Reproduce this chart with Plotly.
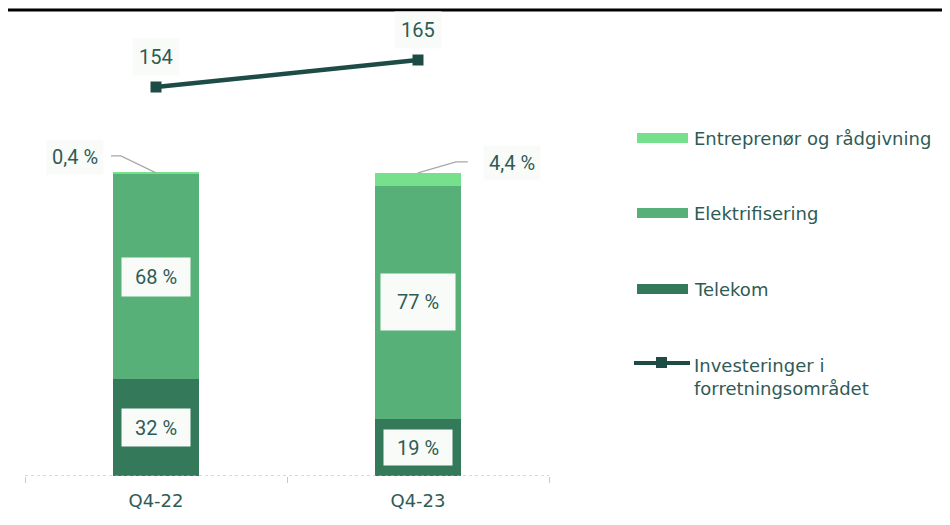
import plotly.graph_objects as go

categories = ["Q4-22", "Q4-23"]
telekom = [32, 19]
elektrifisering = [68, 77]
entreprenor = [0.4, 4.4]
investeringer = [154, 165]
series_names = ["Entreprenør og rådgivning", "Elektrifisering", "Telekom",
                "Investeringer i<br>forretningsområdet"]
small_labels = ["0,4 %", "4,4 %"]

C_ENT = "#76e08d"
C_ELE = "#56b077"
C_TEL = "#33795a"
C_LINE = "#1c4c45"
C_TXT = "#2f5b56"
LBL_BG = "#f9fbf9"

W, H = 950, 525
OFF = 8  # page body margin
ML, MR, MT, MB = 17, 409, 12, 57
PW, PH = W - ML - MR, H - MT - MB


def sx(px):
    """screen x pixel -> paper x"""
    return (px - OFF - ML) / PW


def sy(py):
    """screen y pixel -> paper y"""
    return (H - MB - (py - OFF)) / PH


fig = go.Figure()
fig.add_trace(go.Bar(x=categories, y=telekom, name=series_names[2], marker_color=C_TEL,
                     marker_line_width=0, width=0.33, showlegend=False, hoverinfo="skip"))
fig.add_trace(go.Bar(x=categories, y=elektrifisering, name=series_names[1], marker_color=C_ELE,
                     marker_line_width=0, width=0.33, showlegend=False, hoverinfo="skip"))
fig.add_trace(go.Bar(x=categories, y=entreprenor, name=series_names[0], marker_color=C_ENT,
                     marker_line_width=0, width=0.33, showlegend=False, hoverinfo="skip"))
fig.add_trace(go.Scatter(x=categories, y=investeringer, yaxis="y2", mode="lines+markers",
                         line=dict(color=C_LINE, width=4.5),
                         marker=dict(symbol="square", size=11, color=C_LINE),
                         showlegend=False, hoverinfo="skip"))

annotations = []
# box sizes (w, h) for the in-bar labels: [telekom, elektrifisering] per category
box_sizes = [[(52, 21), (52, 22)], [(52, 19), (58, 40)]]
for i, cat in enumerate(categories):
    t = telekom[i]
    e = elektrifisering[i]
    for k, (val, mid) in enumerate(((t, t / 2), (e, t + e / 2))):
        bw, bh = box_sizes[i][k]
        annotations.append(dict(x=cat, y=mid, xref="x", yref="y", text=f"{val:g} %",
                                showarrow=False, bgcolor=LBL_BG, borderpad=8,
                                width=bw, height=bh,
                                font=dict(family="Roboto", size=20, color=C_TXT)))
    annotations.append(dict(x=cat, y=investeringer[i], xref="x", yref="y2", text=f"{investeringer[i]}",
                            showarrow=False, bgcolor=LBL_BG, borderpad=6, yshift=30,
                            font=dict(family="Roboto", size=20, color=C_TXT)))

# small segment labels with leader lines
top0 = telekom[0] + elektrifisering[0] + entreprenor[0]
top1 = telekom[1] + elektrifisering[1] + entreprenor[1]
annotations.append(dict(x=-0.31, y=top0 + 5.3, xref="x", yref="y", text=small_labels[0],
                        showarrow=False, bgcolor=LBL_BG, borderpad=5,
                        font=dict(family="Roboto", size=20, color=C_TXT)))
annotations.append(dict(x=1.36, y=top1 + 3.3, xref="x", yref="y", text=small_labels[1],
                        showarrow=False, bgcolor=LBL_BG, borderpad=5,
                        font=dict(family="Roboto", size=20, color=C_TXT)))

shapes = [
    dict(type="path", xref="x", yref="y",
         path=f"M -0.172,{top0 + 5.6} L -0.134,{top0 + 5.6} L 0,{top0}",
         line=dict(color="#a8a8a8", width=1.3)),
    dict(type="path", xref="x", yref="y",
         path=f"M 1,{top1} L 1.145,{top1 + 3.6} L 1.19,{top1 + 3.6}",
         line=dict(color="#a8a8a8", width=1.3)),
    # dotted baseline
    dict(type="line", xref="paper", yref="y", x0=0, x1=1, y0=0, y1=0,
         line=dict(color="#b5b5b5", width=1, dash="dot")),
    # top black rule
    dict(type="line", xref="paper", yref="paper", x0=sx(5), x1=sx(960),
         y0=sy(10), y1=sy(10), line=dict(color="#000000", width=3)),
]

# manual legend
legend_rows = [(138, C_ENT, series_names[0]), (213, C_ELE, series_names[1]),
               (289, C_TEL, series_names[2])]
for yc, col, name in legend_rows:
    shapes.append(dict(type="rect", xref="paper", yref="paper",
                       x0=sx(637), x1=sx(688), y0=sy(yc + 5), y1=sy(yc - 5),
                       fillcolor=col, line=dict(width=0)))
    annotations.append(dict(x=sx(692), y=sy(yc), xref="paper", yref="paper",
                            text=name, showarrow=False, xanchor="left", yanchor="middle",
                            font=dict(family="DejaVu Sans", size=18, color=C_TXT)))
shapes.append(dict(type="line", xref="paper", yref="paper",
                   x0=sx(634), x1=sx(690), y0=sy(363), y1=sy(363),
                   line=dict(color=C_LINE, width=4)))
shapes.append(dict(type="rect", xref="paper", yref="paper",
                   x0=sx(656), x1=sx(667), y0=sy(368), y1=sy(357),
                   fillcolor=C_LINE, line=dict(width=0)))
annotations.append(dict(x=sx(692), y=sy(377), xref="paper", yref="paper",
                        text=series_names[3], showarrow=False, xanchor="left", yanchor="middle",
                        align="left",
                        font=dict(family="DejaVu Sans", size=18, color=C_TXT)))

fig.update_layout(
    width=W, height=H,
    margin=dict(l=ML, r=MR, t=MT, b=MB),
    barmode="stack",
    paper_bgcolor="white", plot_bgcolor="white",
    showlegend=False,
    xaxis=dict(range=[-0.5, 1.5], tickson="boundaries", ticks="outside", ticklen=6,
               tickcolor="#c8c8c8", showgrid=False, showline=False, zeroline=False,
               ticklabelstandoff=12,
               tickfont=dict(family="DejaVu Sans", size=18, color=C_TXT)),
    yaxis=dict(range=[0, PH / 3.02], visible=False, showgrid=False),
    yaxis2=dict(range=[-4.5, 181.3], overlaying="y", visible=False, showgrid=False),
    annotations=annotations,
    shapes=shapes,
)

fig.write_html("out.html")
